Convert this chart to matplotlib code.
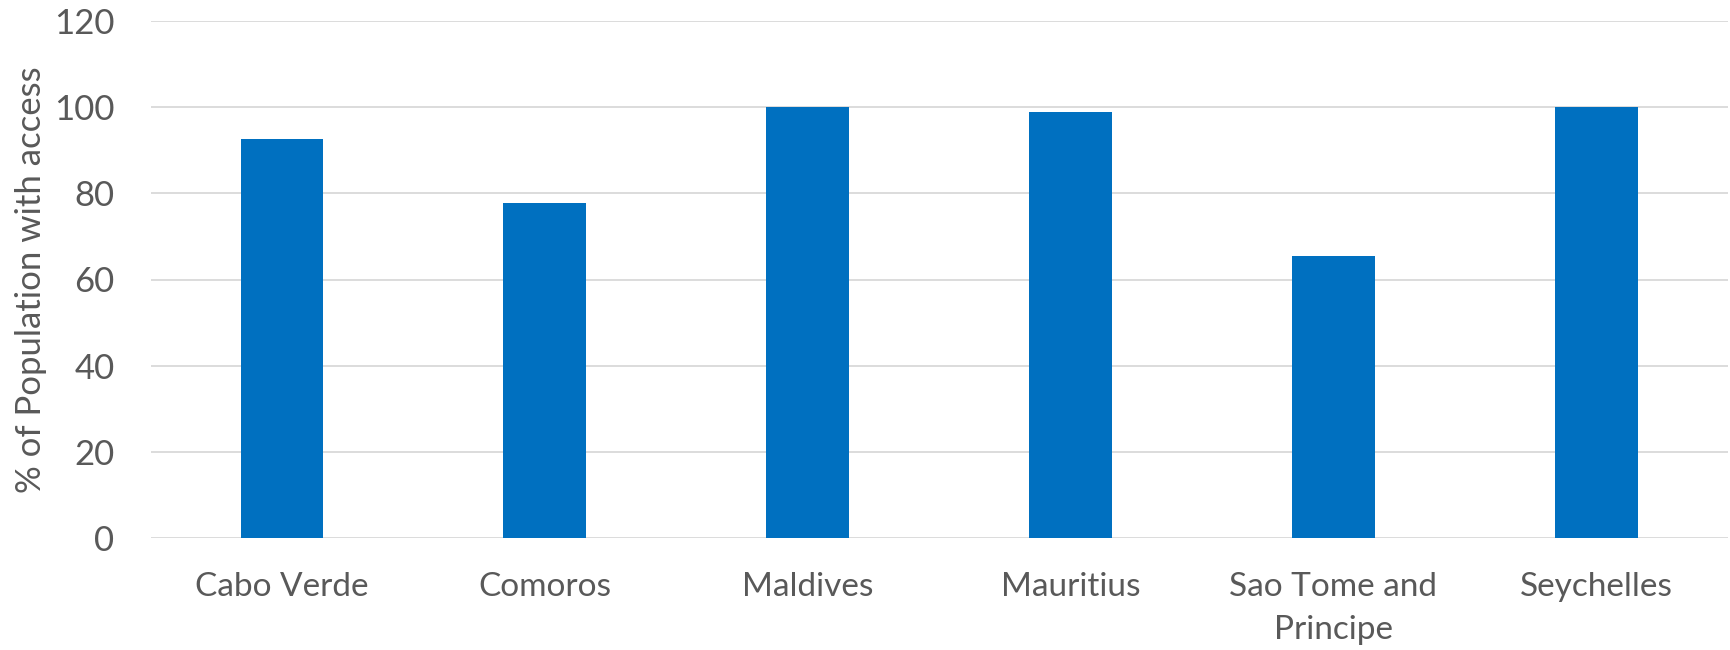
import matplotlib.pyplot as plt

# access rates by country
countries = ["Cabo Verde", "Comoros", "Maldives", "Mauritius",
             "Sao Tome and\nPrincipe", "Seychelles"]
access_pct = [92.6, 77.8, 100, 98.8, 65.5, 100]
y_ticks = [0, 20, 40, 60, 80, 100, 120]

plt.rcParams['font.family'] = ['Lato', 'DejaVu Sans']
text_col = "#595959"
fs = 24

fig = plt.figure(figsize=(17.31, 6.5), dpi=100)
ax = fig.add_axes([0.087, 0.172, 0.911, 0.796])

x = range(len(countries))
ax.bar(x, access_pct, width=0.315, color="#0070C0", zorder=3)

ax.set_xlim(-0.5, len(countries) - 0.5)
ax.set_ylim(0, 120)
ax.set_yticks(y_ticks)
ax.set_xticks(list(x))
ax.set_xticklabels(countries, fontsize=fs, color=text_col, linespacing=1.55)
ax.tick_params(axis="y", labelsize=25, labelcolor=text_col, length=0, pad=26)
ax.tick_params(axis="x", length=0, pad=24)

ax.grid(axis="y", color="#D9D9D9", linewidth=1.3, zorder=0)
for side in ["top", "right", "left", "bottom"]:
    ax.spines[side].set_visible(False)

ax.set_ylabel("% of Population with access", fontsize=25, color=text_col)
ax.yaxis.set_label_coords(-0.066, 0.5)

fig.savefig("out.png", dpi=100, facecolor="white")
